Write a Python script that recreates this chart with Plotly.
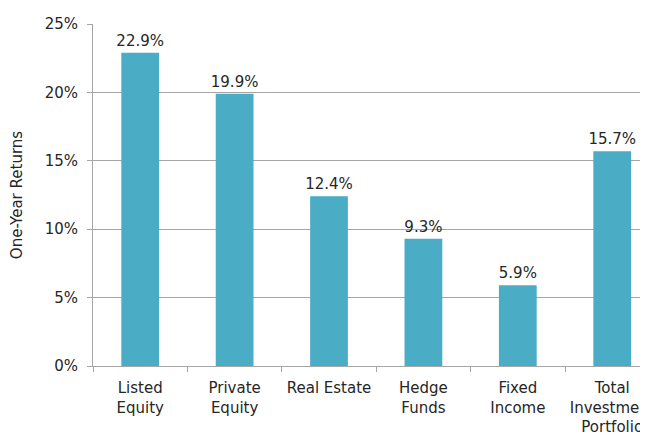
import plotly.graph_objects as go

categories = ["Listed<br>Equity", "Private<br>Equity", "Real Estate", "Hedge<br>Funds", "Fixed<br>Income", "Total<br>Investment<br>Portfolio"]
returns = [22.9, 19.9, 12.4, 9.3, 5.9, 15.7]
y_ticks = [0, 5, 10, 15, 20, 25]
y_tick_labels = ["0%", "5%", "10%", "15%", "20%", "25%"]

FONT = "'DejaVu Sans', sans-serif"
TXT = "#262626"
AX = "#a6a6a6"

fig = go.Figure(go.Bar(
    x=categories,
    y=returns,
    marker=dict(color="#4BACC6", line=dict(width=0)),
    width=0.40,
    text=[f"{v:.1f}%" for v in returns],
    textposition="outside",
    constraintext="none",
    textfont=dict(family=FONT, size=15, color=TXT),
    cliponaxis=False,
))

# the page body adds an 8px offset, so the figure is 640x427 to fill the 648x435 window
fig.update_layout(
    width=640, height=427,
    margin=dict(l=85, r=0, t=16, b=69, autoexpand=False),
    paper_bgcolor="white", plot_bgcolor="white",
    showlegend=False,
    font=dict(family=FONT, size=15, color=TXT),
    xaxis=dict(
        range=[-0.5, 5.379],
        showline=True, linecolor=AX, linewidth=1,
        ticks="outside", tickson="boundaries", ticklen=5, tickcolor=AX,
        ticklabelstandoff=8,
        tickangle=0, automargin=False,
        showgrid=False,
        tickfont=dict(family=FONT, size=15, color=TXT),
        fixedrange=True,
    ),
    yaxis=dict(
        range=[0, 25],
        tickvals=y_ticks, ticktext=y_tick_labels,
        showline=True, linecolor=AX, linewidth=1,
        ticks="outside", ticklen=5, tickcolor=AX,
        ticklabelstandoff=6, automargin=False,
        showgrid=True, gridcolor=AX, gridwidth=1,
        zeroline=False,
        tickfont=dict(family=FONT, size=15, color=TXT),
        title=dict(text="One-Year Returns", font=dict(family=FONT, size=15, color=TXT), standoff=18),
    ),
)

fig.write_html("out.html")
